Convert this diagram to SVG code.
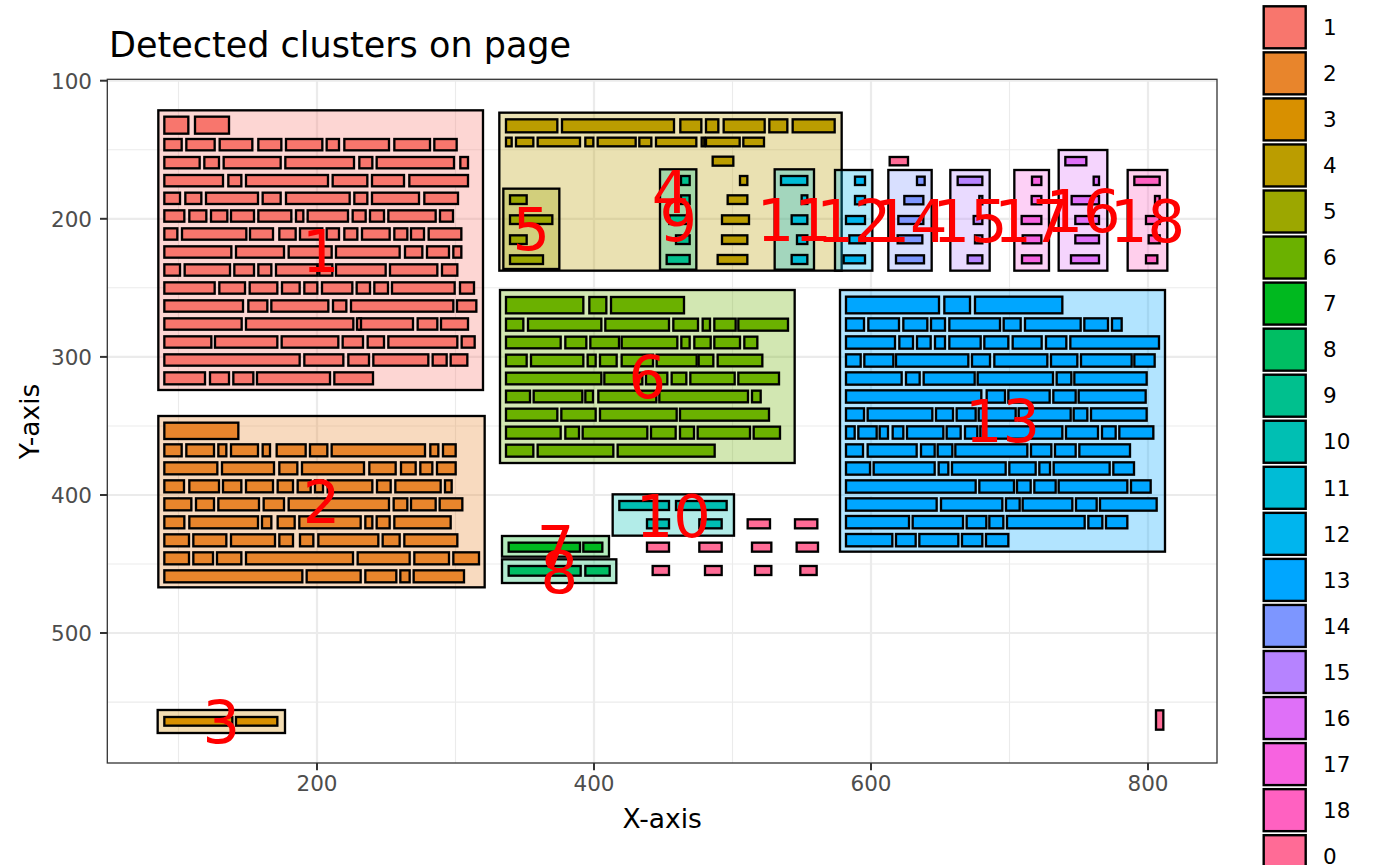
<svg xmlns="http://www.w3.org/2000/svg" width="1400" height="865" viewBox="0 0 1400 865">
<style>
text{font-family:"DejaVu Sans","Liberation Sans",sans-serif}
.box{fill-opacity:.3;stroke:#000;stroke-width:7}
.w rect{stroke:#000;stroke-width:7}
.gM{stroke:#EBEBEB;stroke-width:2.2}
.gm{stroke:#EBEBEB;stroke-width:1.1}
.tk{stroke:#333;stroke-width:2}
.tl{font-size:21.5px;fill:#4D4D4D}
.lab{font-size:59px;fill:#FF0000;text-anchor:middle}
.lg{font-size:21.5px;fill:#000}
.key{stroke:#000;stroke-width:2.4}
</style>
<rect width="1400" height="865" fill="#fff"/>
<text x="109" y="57" font-size="35" fill="#000">Detected clusters on page</text>
<g id="panel">
<rect x="107.3" y="79.3" width="1109.7" height="683.7" fill="#fff"/>
<g class="gm">
<line x1="178.5" y1="79.3" x2="178.5" y2="763"/><line x1="455.5" y1="79.3" x2="455.5" y2="763"/><line x1="732.5" y1="79.3" x2="732.5" y2="763"/><line x1="1009.5" y1="79.3" x2="1009.5" y2="763"/>
<line x1="107.3" y1="149.7" x2="1217" y2="149.7"/><line x1="107.3" y1="287.8" x2="1217" y2="287.8"/><line x1="107.3" y1="426" x2="1217" y2="426"/><line x1="107.3" y1="564" x2="1217" y2="564"/><line x1="107.3" y1="702.1" x2="1217" y2="702.1"/>
</g>
<g class="gM">
<line x1="317" y1="79.3" x2="317" y2="763"/><line x1="594" y1="79.3" x2="594" y2="763"/><line x1="871" y1="79.3" x2="871" y2="763"/><line x1="1148" y1="79.3" x2="1148" y2="763"/>
<line x1="107.3" y1="80.7" x2="1217" y2="80.7"/><line x1="107.3" y1="218.8" x2="1217" y2="218.8"/><line x1="107.3" y1="356.9" x2="1217" y2="356.9"/><line x1="107.3" y1="495" x2="1217" y2="495"/><line x1="107.3" y1="633" x2="1217" y2="633"/>
</g>
</g>
<g id="cluster-boxes">
<g id="box-1" transform="matrix(.33333 0 0 .33333 150 100)"><rect class="box" x="25" y="31" width="974" height="839" fill="#F8766D"/></g>
<g id="box-2" transform="matrix(.33333 0 0 .33333 150 405)"><rect class="box" x="25" y="33" width="979" height="514" fill="#E8852C"/></g>
<g id="box-3" transform="matrix(.33333 0 0 .33333 150 690)"><rect class="box" x="23" y="60" width="382" height="69" fill="#D89000"/></g>
<g id="box-4" transform="matrix(.33333 0 0 .33333 495 105)"><rect class="box" x="13" y="23" width="1027" height="474" fill="#BB9D00"/></g>
<g id="box-5" transform="matrix(.33333 0 0 .33333 495 105)"><rect class="box" x="25" y="251" width="168" height="241" fill="#9CA700"/></g>
<g id="box-6" transform="matrix(.33333 0 0 .33333 495 285)"><rect class="box" x="15" y="15" width="884" height="519" fill="#6BB100"/></g>
<g id="box-7" transform="matrix(.33333 0 0 .33333 495 485)"><rect class="box" x="21" y="153" width="321" height="62" fill="#00B91F"/></g>
<g id="box-8" transform="matrix(.33333 0 0 .33333 495 485)"><rect class="box" x="21" y="223" width="343" height="71" fill="#00BE63"/></g>
<g id="box-9" transform="matrix(.33333 0 0 .33333 495 105)"><rect class="box" x="495" y="193" width="109" height="301" fill="#00C08E"/></g>
<g id="box-10" transform="matrix(.33333 0 0 .33333 495 485)"><rect class="box" x="353" y="28" width="364" height="124" fill="#00BFB3"/></g>
<g id="box-11" transform="matrix(.33333 0 0 .33333 495 105)"><rect class="box" x="839" y="193" width="118" height="301" fill="#00BCD6"/></g>
<g id="box-12" transform="matrix(.33333 0 0 .33333 830 145)"><rect class="box" x="15" y="75" width="112" height="302" fill="#00B5EE"/></g>
<g id="box-13" transform="matrix(.33333 0 0 .33333 835 285)"><rect class="box" x="15" y="15" width="975" height="785" fill="#00A6FF"/></g>
<g id="box-14" transform="matrix(.33333 0 0 .33333 830 145)"><rect class="box" x="175" y="75" width="130" height="302" fill="#7D96FF"/></g>
<g id="box-15" transform="matrix(.33333 0 0 .33333 830 145)"><rect class="box" x="361" y="75" width="118" height="302" fill="#B683FF"/></g>
<g id="box-16" transform="matrix(.33333 0 0 .33333 830 145)"><rect class="box" x="686" y="15" width="146" height="362" fill="#DF70F8"/></g>
<g id="box-17" transform="matrix(.33333 0 0 .33333 830 145)"><rect class="box" x="553" y="75" width="104" height="302" fill="#F763E0"/></g>
<g id="box-18" transform="matrix(.33333 0 0 .33333 830 145)"><rect class="box" x="893" y="75" width="119" height="302" fill="#FF61C1"/></g>
</g>
<g id="words">
<g id="words-1" class="w" fill="#F8766D" transform="matrix(.33333 0 0 .33333 150 100)">
<g transform="translate(0,50)"><rect x="43" width="72" height="51"/><rect x="135" width="102" height="51"/></g>
<g transform="translate(0,117)"><rect x="43" width="52" height="34"/><rect x="109" width="85" height="34"/><rect x="209" width="98" height="34"/><rect x="325" width="69" height="34"/><rect x="408" width="109" height="34"/><rect x="530" width="37" height="34"/><rect x="583" width="134" height="34"/><rect x="733" width="107" height="34"/><rect x="853" width="67" height="34"/></g>
<g transform="translate(0,171)"><rect x="43" width="106" height="34"/><rect x="163" width="44" height="34"/><rect x="221" width="171" height="34"/><rect x="406" width="206" height="34"/><rect x="628" width="39" height="34"/><rect x="680" width="232" height="34"/><rect x="931" width="23" height="34"/></g>
<g transform="translate(0,225)"><rect x="43" width="176" height="34"/><rect x="235" width="39" height="34"/><rect x="288" width="246" height="34"/><rect x="548" width="104" height="34"/><rect x="666" width="96" height="34"/><rect x="778" width="176" height="34"/></g>
<g transform="translate(0,278)"><rect x="43" width="47" height="34"/><rect x="106" width="48" height="34"/><rect x="168" width="156" height="34"/><rect x="338" width="54" height="34"/><rect x="408" width="191" height="34"/><rect x="613" width="39" height="34"/><rect x="666" width="141" height="34"/><rect x="823" width="101" height="34"/></g>
<g transform="translate(0,331)"><rect x="43" width="60" height="34"/><rect x="118" width="51" height="34"/><rect x="183" width="49" height="34"/><rect x="243" width="69" height="34"/><rect x="325" width="99" height="34"/><rect x="438" width="22" height="34"/><rect x="473" width="121" height="34"/><rect x="608" width="39" height="34"/><rect x="660" width="42" height="34"/><rect x="715" width="142" height="34"/><rect x="870" width="39" height="34"/></g>
<g transform="translate(0,385)"><rect x="43" width="39" height="34"/><rect x="96" width="193" height="34"/><rect x="300" width="69" height="34"/><rect x="388" width="49" height="34"/><rect x="450" width="67" height="34"/><rect x="530" width="37" height="34"/><rect x="583" width="39" height="34"/><rect x="636" width="83" height="34"/><rect x="733" width="39" height="34"/><rect x="783" width="39" height="34"/><rect x="836" width="98" height="34"/></g>
<g transform="translate(0,439)"><rect x="43" width="201" height="34"/><rect x="258" width="144" height="34"/><rect x="416" width="129" height="34"/><rect x="558" width="191" height="34"/><rect x="765" width="52" height="34"/><rect x="831" width="66" height="34"/><rect x="910" width="24" height="34"/></g>
<g transform="translate(0,493)"><rect x="43" width="47" height="34"/><rect x="104" width="136" height="34"/><rect x="253" width="59" height="34"/><rect x="325" width="39" height="34"/><rect x="378" width="124" height="34"/><rect x="508" width="39" height="34"/><rect x="558" width="149" height="34"/><rect x="720" width="142" height="34"/><rect x="876" width="46" height="34"/></g>
<g transform="translate(0,547)"><rect x="43" width="151" height="34"/><rect x="208" width="77" height="34"/><rect x="299" width="83" height="34"/><rect x="396" width="53" height="34"/><rect x="463" width="39" height="34"/><rect x="516" width="91" height="34"/><rect x="620" width="40" height="34"/><rect x="673" width="41" height="34"/><rect x="726" width="188" height="34"/><rect x="930" width="42" height="34"/></g>
<g transform="translate(0,601)"><rect x="43" width="236" height="34"/><rect x="295" width="57" height="34"/><rect x="364" width="171" height="34"/><rect x="549" width="40" height="34"/><rect x="603" width="307" height="34"/><rect x="921" width="58" height="34"/></g>
<g transform="translate(0,655)"><rect x="43" width="232" height="34"/><rect x="288" width="322" height="34"/><rect x="628" width="161" height="34"/><rect x="621" width="12" height="34"/><rect x="803" width="59" height="34"/><rect x="873" width="81" height="34"/></g>
<g transform="translate(0,709)"><rect x="43" width="141" height="34"/><rect x="195" width="187" height="34"/><rect x="395" width="170" height="34"/><rect x="578" width="61" height="34"/><rect x="653" width="49" height="34"/><rect x="715" width="207" height="34"/><rect x="935" width="39" height="34"/></g>
<g transform="translate(0,763)"><rect x="43" width="406" height="34"/><rect x="463" width="117" height="34"/><rect x="595" width="62" height="34"/><rect x="670" width="165" height="34"/><rect x="848" width="42" height="34"/><rect x="902" width="50" height="34"/></g>
<g transform="translate(0,817)"><rect x="43" width="122" height="36"/><rect x="180" width="57" height="36"/><rect x="250" width="60" height="36"/><rect x="321" width="219" height="36"/><rect x="553" width="116" height="36"/></g>
</g>
<g id="words-2" class="w" fill="#E8852C" transform="matrix(.33333 0 0 .33333 150 405)">
<g transform="translate(0,53)"><rect x="43" width="222" height="49"/></g>
<g transform="translate(0,118)"><rect x="43" width="52" height="36"/><rect x="109" width="83" height="36"/><rect x="205" width="24" height="36"/><rect x="243" width="81" height="36"/><rect x="338" width="22" height="36"/><rect x="380" width="87" height="36"/><rect x="480" width="52" height="36"/><rect x="545" width="280" height="36"/><rect x="841" width="24" height="36"/><rect x="879" width="38" height="36"/></g>
<g transform="translate(0,172)"><rect x="43" width="159" height="36"/><rect x="216" width="156" height="36"/><rect x="388" width="54" height="36"/><rect x="456" width="186" height="36"/><rect x="658" width="79" height="36"/><rect x="753" width="44" height="36"/><rect x="811" width="36" height="36"/><rect x="861" width="56" height="36"/></g>
<g transform="translate(0,226)"><rect x="43" width="59" height="36"/><rect x="118" width="89" height="36"/><rect x="219" width="55" height="36"/><rect x="288" width="81" height="36"/><rect x="383" width="46" height="36"/><rect x="443" width="39" height="36"/><rect x="495" width="24" height="36"/><rect x="533" width="134" height="36"/><rect x="681" width="41" height="36"/><rect x="736" width="136" height="36"/><rect x="885" width="20" height="36"/></g>
<g transform="translate(0,280)"><rect x="43" width="81" height="36"/><rect x="138" width="54" height="36"/><rect x="205" width="122" height="36"/><rect x="341" width="61" height="36"/><rect x="416" width="301" height="36"/><rect x="731" width="41" height="36"/><rect x="783" width="74" height="36"/><rect x="869" width="68" height="36"/></g>
<g transform="translate(0,334)"><rect x="43" width="60" height="36"/><rect x="118" width="206" height="36"/><rect x="336" width="28" height="36"/><rect x="383" width="51" height="36"/><rect x="448" width="184" height="36"/><rect x="646" width="21" height="36"/><rect x="680" width="39" height="36"/><rect x="733" width="169" height="36"/></g>
<g transform="translate(0,388)"><rect x="43" width="74" height="36"/><rect x="130" width="99" height="36"/><rect x="243" width="132" height="36"/><rect x="388" width="41" height="36"/><rect x="450" width="40" height="36"/><rect x="505" width="180" height="36"/><rect x="698" width="51" height="36"/><rect x="763" width="159" height="36"/></g>
<g transform="translate(0,442)"><rect x="43" width="74" height="36"/><rect x="130" width="59" height="36"/><rect x="201" width="73" height="36"/><rect x="288" width="321" height="36"/><rect x="623" width="156" height="36"/><rect x="793" width="104" height="36"/><rect x="910" width="77" height="36"/></g>
<g transform="translate(0,496)"><rect x="43" width="414" height="36"/><rect x="470" width="162" height="36"/><rect x="646" width="93" height="36"/><rect x="751" width="28" height="36"/><rect x="791" width="151" height="36"/></g>
</g>
<g id="words-3" class="w" fill="#D89000" transform="matrix(.33333 0 0 .33333 150 690)"><rect x="43" y="81" width="204" height="26"/><rect x="258" y="81" width="124" height="26"/></g>
<g id="words-4" class="w" fill="#BB9D00" transform="matrix(.33333 0 0 .33333 495 105)">
<g transform="translate(0,43)"><rect x="33" width="154" height="39"/><rect x="201" width="336" height="39"/><rect x="556" width="63" height="39"/><rect x="633" width="37" height="39"/><rect x="686" width="123" height="39"/><rect x="823" width="54" height="39"/><rect x="893" width="126" height="39"/></g>
<g transform="translate(0,98)"><rect x="33" width="17" height="26"/><rect x="63" width="52" height="26"/><rect x="128" width="127" height="26"/><rect x="271" width="24" height="26"/><rect x="308" width="114" height="26"/><rect x="433" width="36" height="26"/><rect x="483" width="121" height="26"/><rect x="620" width="8" height="26"/><rect x="633" width="101" height="26"/><rect x="745" width="62" height="26"/></g>
<rect x="653" y="155" width="62" height="27"/><rect x="735" y="213" width="22" height="27"/><rect x="698" y="271" width="59" height="26"/><rect x="681" y="331" width="81" height="26"/><rect x="681" y="391" width="76" height="26"/><rect x="668" y="450" width="89" height="27"/>
</g>
<g id="words-5" class="w" fill="#9CA700" transform="matrix(.33333 0 0 .33333 495 105)"><rect x="45" y="271" width="50" height="26"/><rect x="45" y="331" width="127" height="26"/><rect x="45" y="391" width="50" height="26"/><rect x="45" y="451" width="99" height="26"/></g>
<g id="words-6" class="w" fill="#6BB100" transform="matrix(.33333 0 0 .33333 495 285)">
<g transform="translate(0,36)"><rect x="33" width="232" height="49"/><rect x="283" width="51" height="49"/><rect x="348" width="219" height="49"/></g>
<g transform="translate(0,101)"><rect x="33" width="52" height="36"/><rect x="99" width="220" height="36"/><rect x="331" width="191" height="36"/><rect x="535" width="74" height="36"/><rect x="623" width="22" height="36"/><rect x="658" width="64" height="36"/><rect x="730" width="149" height="36"/></g>
<g transform="translate(0,155)"><rect x="33" width="164" height="35"/><rect x="211" width="63" height="35"/><rect x="286" width="86" height="35"/><rect x="380" width="167" height="35"/><rect x="559" width="25" height="35"/><rect x="598" width="49" height="35"/><rect x="658" width="77" height="35"/><rect x="748" width="39" height="35"/></g>
<g transform="translate(0,209)"><rect x="33" width="62" height="35"/><rect x="108" width="157" height="35"/><rect x="278" width="24" height="35"/><rect x="315" width="50" height="35"/><rect x="380" width="94" height="35"/><rect x="485" width="120" height="35"/><rect x="611" width="44" height="35"/><rect x="668" width="134" height="35"/></g>
<g transform="translate(0,263)"><rect x="33" width="286" height="35"/><rect x="328" width="114" height="35"/><rect x="453" width="64" height="35"/><rect x="530" width="44" height="35"/><rect x="586" width="133" height="35"/><rect x="730" width="122" height="35"/></g>
<g transform="translate(0,317)"><rect x="33" width="72" height="35"/><rect x="116" width="146" height="35"/><rect x="271" width="23" height="35"/><rect x="310" width="174" height="35"/><rect x="493" width="266" height="35"/><rect x="771" width="26" height="35"/></g>
<g transform="translate(0,371)"><rect x="33" width="154" height="36"/><rect x="199" width="103" height="36"/><rect x="315" width="230" height="36"/><rect x="555" width="267" height="36"/></g>
<g transform="translate(0,425)"><rect x="33" width="164" height="36"/><rect x="211" width="41" height="36"/><rect x="263" width="194" height="36"/><rect x="468" width="74" height="36"/><rect x="555" width="42" height="36"/><rect x="608" width="157" height="36"/><rect x="776" width="79" height="36"/></g>
<g transform="translate(0,479)"><rect x="33" width="82" height="36"/><rect x="128" width="227" height="36"/><rect x="368" width="291" height="36"/></g>
</g>
<g id="words-7" class="w" fill="#00B91F" transform="matrix(.33333 0 0 .33333 495 485)"><rect x="41" y="173" width="214" height="27"/><rect x="265" y="173" width="57" height="27"/></g>
<g id="words-8" class="w" fill="#00BE63" transform="matrix(.33333 0 0 .33333 495 485)"><rect x="41" y="243" width="216" height="29"/><rect x="271" y="243" width="73" height="29"/></g>
<g id="words-9" class="w" fill="#00C08E" transform="matrix(.33333 0 0 .33333 495 105)"><rect x="558" y="213" width="26" height="27"/><rect x="558" y="271" width="26" height="26"/><rect x="523" y="331" width="61" height="26"/><rect x="543" y="391" width="41" height="26"/><rect x="515" y="450" width="69" height="27"/></g>
<g id="words-10" class="w" fill="#00BFB3" transform="matrix(.33333 0 0 .33333 495 485)"><rect x="373" y="48" width="149" height="27"/><rect x="543" y="48" width="152" height="27"/><rect x="456" y="103" width="66" height="27"/><rect x="613" y="103" width="67" height="27"/></g>
<g id="words-11" class="w" fill="#00BCD6" transform="matrix(.33333 0 0 .33333 495 105)"><rect x="858" y="213" width="79" height="27"/><rect x="920" y="271" width="17" height="26"/><rect x="890" y="331" width="47" height="26"/><rect x="906" y="391" width="31" height="26"/><rect x="890" y="450" width="47" height="27"/></g>
<g id="words-12" class="w" fill="#00B5EE" transform="matrix(.33333 0 0 .33333 830 145)"><rect x="75" y="95" width="30" height="25"/><rect x="75" y="153" width="30" height="25"/><rect x="48" y="213" width="57" height="24"/><rect x="58" y="271" width="47" height="24"/><rect x="41" y="331" width="64" height="24"/></g>
<g id="words-13" class="w" fill="#00A6FF" transform="matrix(.33333 0 0 .33333 835 285)">
<g transform="translate(0,35)"><rect x="33" width="279" height="50"/><rect x="328" width="77" height="50"/><rect x="420" width="262" height="50"/></g>
<g transform="translate(0,100)"><rect x="33" width="54" height="37"/><rect x="100" width="92" height="37"/><rect x="205" width="72" height="37"/><rect x="288" width="42" height="37"/><rect x="343" width="152" height="37"/><rect x="506" width="51" height="37"/><rect x="570" width="167" height="37"/><rect x="748" width="71" height="37"/><rect x="831" width="29" height="37"/></g>
<g transform="translate(0,154)"><rect x="33" width="147" height="37"/><rect x="193" width="41" height="37"/><rect x="246" width="41" height="37"/><rect x="300" width="30" height="37"/><rect x="343" width="94" height="37"/><rect x="448" width="72" height="37"/><rect x="533" width="87" height="37"/><rect x="633" width="61" height="37"/><rect x="706" width="266" height="37"/></g>
<g transform="translate(0,208)"><rect x="33" width="44" height="37"/><rect x="88" width="87" height="37"/><rect x="183" width="217" height="37"/><rect x="411" width="54" height="37"/><rect x="478" width="159" height="37"/><rect x="648" width="79" height="37"/><rect x="738" width="152" height="37"/><rect x="898" width="61" height="37"/></g>
<g transform="translate(0,262)"><rect x="33" width="167" height="37"/><rect x="213" width="41" height="37"/><rect x="266" width="153" height="37"/><rect x="428" width="226" height="37"/><rect x="665" width="44" height="37"/><rect x="718" width="217" height="37"/></g>
<g transform="translate(0,316)"><rect x="33" width="406" height="37"/><rect x="455" width="55" height="37"/><rect x="520" width="124" height="37"/><rect x="655" width="67" height="37"/><rect x="731" width="201" height="37"/></g>
<g transform="translate(0,370)"><rect x="33" width="54" height="37"/><rect x="98" width="194" height="37"/><rect x="303" width="51" height="37"/><rect x="365" width="57" height="37"/><rect x="431" width="111" height="37"/><rect x="551" width="156" height="37"/><rect x="716" width="41" height="37"/><rect x="768" width="167" height="37"/></g>
<g transform="translate(0,424)"><rect x="33" width="26" height="37"/><rect x="70" width="55" height="37"/><rect x="134" width="25" height="37"/><rect x="173" width="32" height="37"/><rect x="216" width="109" height="37"/><rect x="335" width="42" height="37"/><rect x="390" width="37" height="37"/><rect x="436" width="246" height="37"/><rect x="693" width="96" height="37"/><rect x="801" width="41" height="37"/><rect x="853" width="102" height="37"/></g>
<g transform="translate(0,478)"><rect x="33" width="51" height="37"/><rect x="98" width="147" height="37"/><rect x="258" width="41" height="37"/><rect x="308" width="44" height="37"/><rect x="361" width="216" height="37"/><rect x="588" width="61" height="37"/><rect x="660" width="62" height="37"/><rect x="733" width="152" height="37"/></g>
<g transform="translate(0,532)"><rect x="33" width="72" height="37"/><rect x="116" width="183" height="37"/><rect x="311" width="29" height="37"/><rect x="351" width="161" height="37"/><rect x="523" width="79" height="37"/><rect x="613" width="32" height="37"/><rect x="656" width="168" height="37"/><rect x="835" width="62" height="37"/></g>
<g transform="translate(0,586)"><rect x="33" width="389" height="37"/><rect x="433" width="104" height="37"/><rect x="546" width="41" height="37"/><rect x="598" width="64" height="37"/><rect x="671" width="206" height="37"/><rect x="888" width="59" height="37"/></g>
<g transform="translate(0,640)"><rect x="33" width="272" height="37"/><rect x="318" width="184" height="37"/><rect x="513" width="41" height="37"/><rect x="563" width="149" height="37"/><rect x="723" width="62" height="37"/><rect x="795" width="170" height="37"/></g>
<g transform="translate(0,693)"><rect x="33" width="189" height="37"/><rect x="233" width="151" height="37"/><rect x="395" width="59" height="37"/><rect x="463" width="42" height="37"/><rect x="516" width="233" height="37"/><rect x="760" width="42" height="37"/><rect x="813" width="64" height="37"/></g>
<g transform="translate(0,747)"><rect x="33" width="139" height="37"/><rect x="183" width="59" height="37"/><rect x="253" width="117" height="37"/><rect x="381" width="61" height="37"/><rect x="453" width="67" height="37"/></g>
</g>
<g id="words-14" class="w" fill="#7D96FF" transform="matrix(.33333 0 0 .33333 830 145)"><rect x="261" y="95" width="23" height="25"/><rect x="223" y="153" width="57" height="25"/><rect x="205" y="213" width="75" height="24"/><rect x="203" y="271" width="74" height="24"/><rect x="198" y="331" width="84" height="24"/></g>
<g id="words-15" class="w" fill="#B683FF" transform="matrix(.33333 0 0 .33333 830 145)"><rect x="383" y="95" width="74" height="25"/><rect x="448" y="153" width="9" height="25"/><rect x="431" y="213" width="26" height="24"/><rect x="435" y="271" width="22" height="24"/><rect x="413" y="331" width="44" height="24"/></g>
<g id="words-16" class="w" fill="#DF70F8" transform="matrix(.33333 0 0 .33333 830 145)"><rect x="706" y="36" width="63" height="25"/><rect x="791" y="95" width="16" height="25"/><rect x="725" y="153" width="82" height="25"/><rect x="736" y="213" width="71" height="24"/><rect x="736" y="271" width="71" height="24"/><rect x="723" y="331" width="84" height="24"/></g>
<g id="words-17" class="w" fill="#F763E0" transform="matrix(.33333 0 0 .33333 830 145)"><rect x="606" y="95" width="28" height="25"/><rect x="605" y="153" width="29" height="25"/><rect x="575" y="213" width="59" height="24"/><rect x="578" y="271" width="56" height="24"/><rect x="576" y="331" width="58" height="24"/></g>
<g id="words-18" class="w" fill="#FF61C1" transform="matrix(.33333 0 0 .33333 830 145)"><rect x="913" y="95" width="76" height="25"/><rect x="975" y="153" width="14" height="25"/><rect x="948" y="213" width="41" height="24"/><rect x="956" y="271" width="33" height="24"/><rect x="948" y="331" width="34" height="24"/></g>
<g id="words-0" class="w" fill="#FF6B96">
<g transform="matrix(.33333 0 0 .33333 830 145)"><rect x="179" y="36" width="55" height="25"/></g>
<g transform="matrix(.33333 0 0 .33333 495 485)"><rect x="758" y="103" width="67" height="27"/><rect x="900" y="103" width="67" height="27"/><rect x="456" y="173" width="66" height="27"/><rect x="613" y="173" width="67" height="27"/><rect x="771" y="173" width="58" height="27"/><rect x="905" y="173" width="64" height="27"/><rect x="473" y="243" width="49" height="27"/><rect x="630" y="243" width="50" height="27"/><rect x="780" y="243" width="49" height="27"/><rect x="916" y="243" width="49" height="27"/></g>
<g transform="matrix(.33333 0 0 .33333 1140 700)"><rect x="48" y="31" width="22" height="58"/></g>
</g>
</g>
<rect id="panel-border" x="107.3" y="79.3" width="1109.7" height="683.7" fill="none" stroke="#333" stroke-width="1.3"/>
<g id="labels" class="lab">
<text x="320.7" y="272">1</text>
<text x="321.5" y="523">2</text>
<text x="221.3" y="743">3</text>
<text x="670.5" y="213">4</text>
<text x="531.3" y="250">5</text>
<text x="647.3" y="398">6</text>
<text x="555.5" y="568">7</text>
<text x="559.2" y="593">8</text>
<text x="678.2" y="241">9</text>
<text x="673.3" y="536.5">10</text>
<text x="794.3" y="241">11</text>
<text x="853.7" y="242">12</text>
<text x="1002.5" y="442">13</text>
<text x="910" y="242">14</text>
<text x="970" y="242">15</text>
<text x="1083" y="232">16</text>
<text x="1031.7" y="242">17</text>
<text x="1147.5" y="242">18</text>
</g>
<g id="axes">
<g class="tk">
<line x1="100" y1="80.7" x2="107.3" y2="80.7"/><line x1="100" y1="218.8" x2="107.3" y2="218.8"/><line x1="100" y1="356.9" x2="107.3" y2="356.9"/><line x1="100" y1="495" x2="107.3" y2="495"/><line x1="100" y1="633" x2="107.3" y2="633"/>
<line x1="317" y1="763" x2="317" y2="770.3"/><line x1="594" y1="763" x2="594" y2="770.3"/><line x1="871" y1="763" x2="871" y2="770.3"/><line x1="1148" y1="763" x2="1148" y2="770.3"/>
</g>
<g class="tl" text-anchor="end">
<text x="92" y="88.5">100</text><text x="92" y="226.6">200</text><text x="92" y="364.7">300</text><text x="92" y="502.8">400</text><text x="92" y="640.8">500</text>
</g>
<g class="tl" text-anchor="middle">
<text x="317" y="791">200</text><text x="594" y="791">400</text><text x="871" y="791">600</text><text x="1148" y="791">800</text>
</g>
<text x="662.2" y="828" font-size="26.5" text-anchor="middle" fill="#000">X-axis</text>
<text transform="translate(39,421.5) rotate(-90)" font-size="26.5" text-anchor="middle" fill="#000">Y-axis</text>
</g>
<g id="legend">
<g class="key">
<rect x="1263.7" y="6.3" width="42" height="42" fill="#F8766D"/>
<rect x="1263.7" y="52.35" width="42" height="42" fill="#E8852C"/>
<rect x="1263.7" y="98.4" width="42" height="42" fill="#D89000"/>
<rect x="1263.7" y="144.45" width="42" height="42" fill="#BB9D00"/>
<rect x="1263.7" y="190.5" width="42" height="42" fill="#9CA700"/>
<rect x="1263.7" y="236.55" width="42" height="42" fill="#6BB100"/>
<rect x="1263.7" y="282.6" width="42" height="42" fill="#00B91F"/>
<rect x="1263.7" y="328.65" width="42" height="42" fill="#00BE63"/>
<rect x="1263.7" y="374.7" width="42" height="42" fill="#00C08E"/>
<rect x="1263.7" y="420.75" width="42" height="42" fill="#00BFB3"/>
<rect x="1263.7" y="466.8" width="42" height="42" fill="#00BCD6"/>
<rect x="1263.7" y="512.85" width="42" height="42" fill="#00B5EE"/>
<rect x="1263.7" y="558.9" width="42" height="42" fill="#00A6FF"/>
<rect x="1263.7" y="604.95" width="42" height="42" fill="#7D96FF"/>
<rect x="1263.7" y="651" width="42" height="42" fill="#B683FF"/>
<rect x="1263.7" y="697.05" width="42" height="42" fill="#DF70F8"/>
<rect x="1263.7" y="743.1" width="42" height="42" fill="#F763E0"/>
<rect x="1263.7" y="789.15" width="42" height="42" fill="#FF61C1"/>
<rect x="1263.7" y="835.2" width="42" height="42" fill="#FF6B96"/>
</g>
<g class="lg">
<text x="1323" y="35">1</text><text x="1323" y="81.05">2</text><text x="1323" y="127.1">3</text><text x="1323" y="173.15">4</text><text x="1323" y="219.2">5</text><text x="1323" y="265.25">6</text><text x="1323" y="311.3">7</text><text x="1323" y="357.35">8</text><text x="1323" y="403.4">9</text><text x="1323" y="449.45">10</text><text x="1323" y="495.5">11</text><text x="1323" y="541.55">12</text><text x="1323" y="587.6">13</text><text x="1323" y="633.65">14</text><text x="1323" y="679.7">15</text><text x="1323" y="725.75">16</text><text x="1323" y="771.8">17</text><text x="1323" y="817.85">18</text><text x="1323" y="863.9">0</text>
</g>
</g>
</svg>
